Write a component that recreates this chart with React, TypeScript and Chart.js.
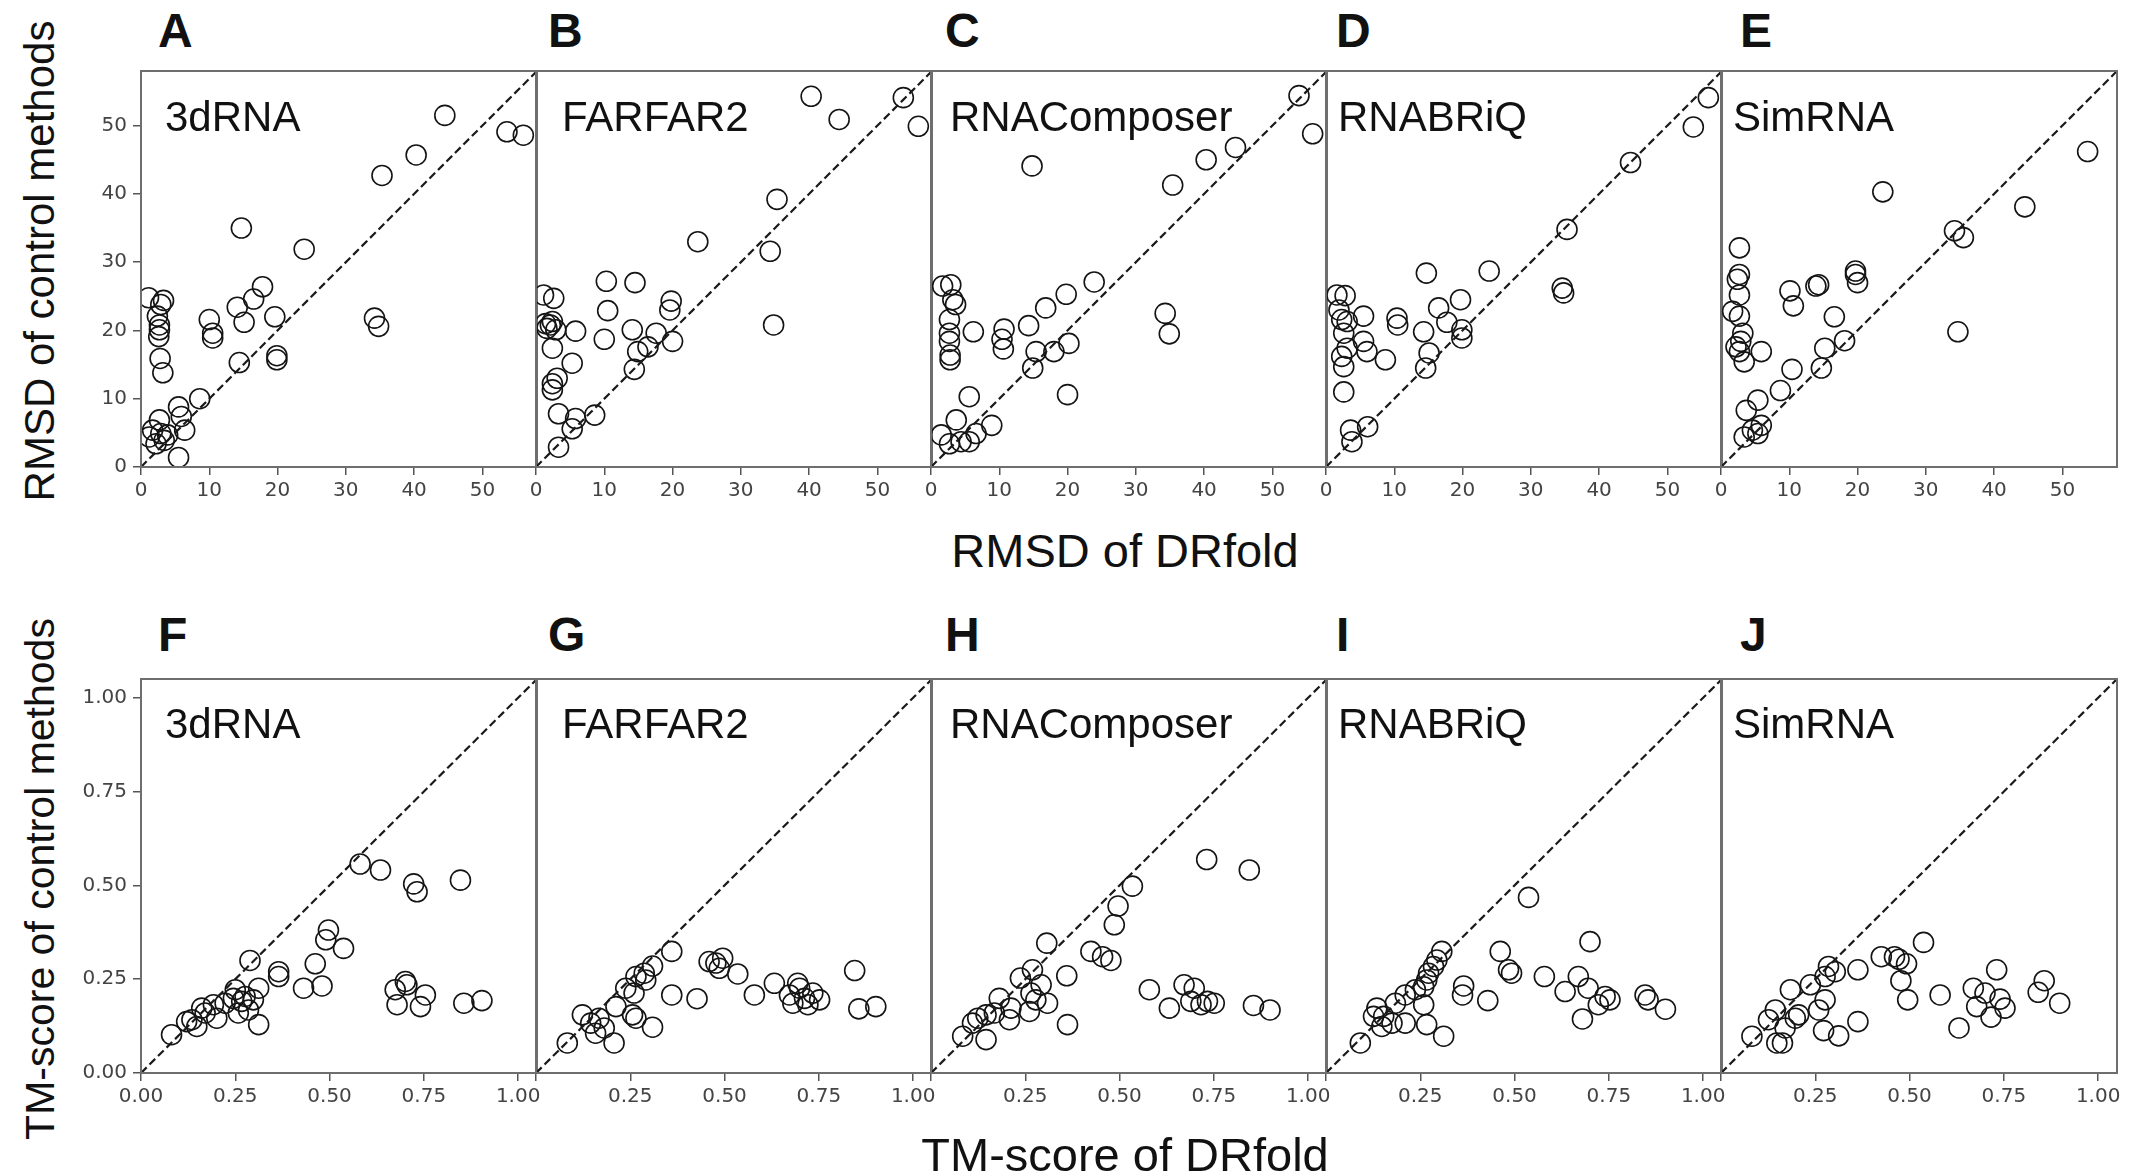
import React, { useEffect, useRef } from 'react';
import { Chart, registerables } from 'chart.js';
Chart.register(...registerables);

// ---------------- data ----------------
const methods = ['3dRNA', 'FARFAR2', 'RNAComposer', 'RNABRiQ', 'SimRNA'];
const topLetters = ['A', 'B', 'C', 'D', 'E'];
const bottomLetters = ['F', 'G', 'H', 'I', 'J'];
const rmsdTicks = [0, 10, 20, 30, 40, 50];
const tmTicks = [0, 0.25, 0.5, 0.75, 1.0];
const rmsdMax = 58;
const tmMax = 1.05;

// RMSD: DRfold (x) vs control method (y)
const rmsdDRfold_3dRNA = [44.5, 53.6, 56.0, 40.3, 35.3, 14.7, 23.9, 17.8, 16.5, 14.1, 15.1, 19.6, 10.0, 10.5, 10.5, 34.2, 34.8, 19.9, 19.9, 14.4, 1.1, 2.9, 2.4, 2.7, 2.7, 2.6, 2.8, 3.2, 8.6, 5.5, 5.9, 6.4, 2.7, 1.2, 2.9, 3.9, 3.4, 2.2, 5.5, 1.7, 3.3];
const rmsd_3dRNA = [51.5, 49.1, 48.6, 45.7, 42.7, 35.0, 31.9, 26.4, 24.6, 23.4, 21.2, 22.0, 21.6, 19.6, 18.9, 21.8, 20.6, 16.3, 15.7, 15.3, 24.8, 23.8, 22.1, 20.8, 20.1, 19.1, 15.9, 13.8, 10.0, 8.8, 7.4, 5.4, 6.9, 4.4, 4.9, 4.7, 3.9, 3.4, 1.4, 5.4, 24.4];

const rmsdDRfold_FARFAR2 = [40.3, 44.4, 53.8, 56.0, 35.3, 34.3, 23.7, 34.8, 10.3, 14.5, 10.5, 19.8, 19.6, 20.0, 10.0, 14.1, 17.6, 16.4, 14.9, 14.4, 1.1, 2.6, 2.1, 1.6, 2.4, 2.9, 1.4, 5.8, 2.4, 5.3, 3.1, 2.4, 2.4, 3.3, 5.8, 8.6, 5.3, 3.3];
const rmsd_FARFAR2 = [54.3, 50.9, 54.1, 49.9, 39.2, 31.6, 33.0, 20.8, 27.2, 27.0, 22.9, 24.3, 23.0, 18.4, 18.7, 20.1, 19.6, 17.6, 16.9, 14.3, 25.2, 24.7, 20.8, 20.3, 21.3, 20.1, 21.0, 19.9, 17.4, 15.2, 13.0, 12.2, 11.3, 7.8, 7.1, 7.6, 5.6, 2.9];

const rmsdDRfold_RNAComposer = [53.9, 55.9, 44.6, 40.3, 35.4, 14.8, 23.9, 19.8, 16.8, 14.3, 10.7, 10.4, 10.6, 6.2, 34.3, 34.9, 20.2, 18.0, 15.4, 14.9, 20.0, 5.6, 1.7, 2.9, 3.2, 3.6, 2.7, 2.7, 2.7, 2.8, 2.8, 3.7, 1.5, 2.7, 4.4, 5.6, 6.6, 8.9];
const rmsd_RNAComposer = [54.4, 48.8, 46.8, 45.0, 41.3, 44.1, 27.1, 25.3, 23.3, 20.7, 20.2, 18.7, 17.3, 19.8, 22.5, 19.5, 18.1, 16.9, 16.9, 14.5, 10.6, 10.3, 26.5, 26.7, 24.5, 23.8, 21.6, 19.6, 18.4, 16.4, 15.7, 6.9, 4.7, 3.4, 3.7, 3.7, 4.9, 6.1];

const rmsdDRfold_RNABRiQ = [56.0, 53.8, 44.6, 35.3, 34.6, 34.8, 23.9, 14.7, 19.7, 16.5, 17.7, 19.9, 19.9, 14.3, 10.4, 10.5, 15.1, 14.6, 8.7, 5.5, 5.5, 6.0, 1.6, 2.8, 1.9, 2.3, 3.1, 2.6, 3.1, 2.3, 2.6, 2.6, 3.6, 6.1, 3.8];
const rmsd_RNABRiQ = [54.1, 49.8, 44.6, 34.8, 26.2, 25.5, 28.7, 28.4, 24.5, 23.3, 21.2, 20.1, 18.9, 19.8, 21.8, 20.8, 16.7, 14.5, 15.7, 22.1, 18.4, 16.9, 25.2, 25.1, 23.0, 21.6, 21.3, 19.6, 17.4, 16.2, 14.7, 11.0, 5.4, 5.9, 3.7];

const rmsdDRfold_SimRNA = [53.7, 23.7, 44.5, 34.2, 35.5, 34.7, 19.7, 19.7, 20.0, 14.3, 13.9, 10.1, 10.6, 16.6, 18.1, 15.2, 14.7, 10.4, 8.7, 5.9, 2.7, 2.7, 2.4, 2.7, 1.7, 2.7, 3.2, 2.9, 2.2, 2.7, 3.4, 5.4, 3.7, 5.9, 5.4, 3.4, 4.6];
const rmsd_SimRNA = [46.2, 40.3, 38.1, 34.6, 33.6, 19.8, 28.7, 28.2, 27.0, 26.7, 26.5, 25.8, 23.6, 22.0, 18.5, 17.4, 14.5, 14.3, 11.2, 16.9, 32.1, 28.2, 27.5, 25.2, 22.8, 22.1, 19.6, 18.4, 17.6, 16.9, 15.4, 9.8, 8.3, 6.1, 4.9, 4.4, 5.4];

// TM-score: DRfold (x) vs control method (y)
const tmDRfold_3dRNA = [0.581, 0.635, 0.847, 0.723, 0.732, 0.497, 0.490, 0.537, 0.289, 0.462, 0.365, 0.365, 0.431, 0.480, 0.312, 0.312, 0.701, 0.705, 0.674, 0.754, 0.679, 0.741, 0.856, 0.904, 0.081, 0.121, 0.148, 0.161, 0.170, 0.201, 0.192, 0.223, 0.250, 0.258, 0.267, 0.276, 0.298, 0.285, 0.135, 0.245];
const tm_3dRNA = [0.557, 0.541, 0.514, 0.504, 0.483, 0.381, 0.355, 0.332, 0.300, 0.291, 0.270, 0.257, 0.226, 0.232, 0.226, 0.129, 0.244, 0.235, 0.222, 0.208, 0.182, 0.177, 0.186, 0.193, 0.102, 0.137, 0.124, 0.173, 0.160, 0.146, 0.182, 0.186, 0.222, 0.160, 0.191, 0.204, 0.195, 0.168, 0.142, 0.199];

const tmDRfold_FARFAR2 = [0.360, 0.459, 0.495, 0.486, 0.477, 0.535, 0.632, 0.579, 0.845, 0.694, 0.699, 0.672, 0.712, 0.734, 0.752, 0.681, 0.721, 0.856, 0.901, 0.360, 0.427, 0.309, 0.287, 0.265, 0.238, 0.260, 0.291, 0.212, 0.256, 0.265, 0.309, 0.123, 0.145, 0.167, 0.158, 0.181, 0.207, 0.083];
const tm_FARFAR2 = [0.324, 0.297, 0.306, 0.279, 0.293, 0.264, 0.239, 0.208, 0.273, 0.239, 0.226, 0.208, 0.199, 0.213, 0.195, 0.186, 0.182, 0.171, 0.177, 0.208, 0.198, 0.285, 0.266, 0.257, 0.226, 0.213, 0.248, 0.177, 0.155, 0.146, 0.122, 0.155, 0.133, 0.146, 0.106, 0.120, 0.080, 0.080];

const tmDRfold_RNAComposer = [0.731, 0.844, 0.534, 0.496, 0.486, 0.307, 0.424, 0.455, 0.477, 0.360, 0.579, 0.671, 0.698, 0.632, 0.689, 0.716, 0.733, 0.751, 0.855, 0.899, 0.362, 0.269, 0.237, 0.292, 0.265, 0.309, 0.278, 0.181, 0.212, 0.208, 0.261, 0.124, 0.146, 0.168, 0.084, 0.146, 0.110];
const tm_RNAComposer = [0.569, 0.541, 0.498, 0.445, 0.395, 0.346, 0.324, 0.310, 0.300, 0.259, 0.222, 0.235, 0.226, 0.173, 0.191, 0.182, 0.191, 0.186, 0.180, 0.168, 0.129, 0.275, 0.253, 0.235, 0.213, 0.186, 0.195, 0.199, 0.173, 0.142, 0.164, 0.146, 0.155, 0.160, 0.098, 0.089, 0.133];

const tmDRfold_RNABRiQ = [0.537, 0.700, 0.462, 0.484, 0.492, 0.307, 0.294, 0.285, 0.272, 0.267, 0.259, 0.365, 0.362, 0.429, 0.579, 0.669, 0.634, 0.695, 0.740, 0.753, 0.722, 0.680, 0.846, 0.854, 0.900, 0.259, 0.210, 0.184, 0.267, 0.312, 0.210, 0.175, 0.153, 0.126, 0.148, 0.091, 0.135, 0.237];
const tm_RNABRiQ = [0.468, 0.350, 0.324, 0.275, 0.266, 0.324, 0.301, 0.284, 0.266, 0.248, 0.230, 0.232, 0.208, 0.193, 0.257, 0.257, 0.217, 0.226, 0.204, 0.195, 0.182, 0.144, 0.208, 0.195, 0.170, 0.182, 0.208, 0.186, 0.129, 0.098, 0.133, 0.133, 0.151, 0.151, 0.124, 0.080, 0.173, 0.222];

const tmDRfold_SimRNA = [0.537, 0.425, 0.460, 0.472, 0.492, 0.477, 0.495, 0.363, 0.581, 0.731, 0.669, 0.700, 0.740, 0.678, 0.716, 0.753, 0.631, 0.857, 0.841, 0.898, 0.285, 0.303, 0.276, 0.237, 0.184, 0.276, 0.259, 0.206, 0.197, 0.272, 0.312, 0.363, 0.144, 0.126, 0.170, 0.148, 0.163, 0.082];
const tm_SimRNA = [0.348, 0.310, 0.310, 0.303, 0.291, 0.246, 0.195, 0.275, 0.208, 0.275, 0.226, 0.213, 0.197, 0.177, 0.149, 0.173, 0.120, 0.246, 0.215, 0.186, 0.284, 0.270, 0.257, 0.235, 0.222, 0.195, 0.168, 0.155, 0.146, 0.113, 0.099, 0.137, 0.168, 0.142, 0.120, 0.080, 0.080, 0.098];

const rmsdX = [rmsdDRfold_3dRNA, rmsdDRfold_FARFAR2, rmsdDRfold_RNAComposer, rmsdDRfold_RNABRiQ, rmsdDRfold_SimRNA];
const rmsdY = [rmsd_3dRNA, rmsd_FARFAR2, rmsd_RNAComposer, rmsd_RNABRiQ, rmsd_SimRNA];
const tmX = [tmDRfold_3dRNA, tmDRfold_FARFAR2, tmDRfold_RNAComposer, tmDRfold_RNABRiQ, tmDRfold_SimRNA];
const tmY = [tm_3dRNA, tm_FARFAR2, tm_RNAComposer, tm_RNABRiQ, tm_SimRNA];

// ---------------- layout ----------------
const PANEL_LEFTS = [141, 536, 931, 1326, 1721];
const PANEL_W = 396;
const ROW_TOPS = [71, 679];
const ROW_H = [396, 394];
const PAD_L = 72;
const PAD_R = 30;
const PAD_T = 12;
const PAD_B = 50;
const LETTER_X = [158, 548, 945, 1336, 1740];
const NAME_X = [165, 562, 950, 1338, 1733];
const LETTER_TOP = [7, 611];
const NAME_TOP = [96, 703];

const SANS = '"Liberation Sans", Arial, Helvetica, sans-serif';
const TICK_FONT = '"DejaVu Sans", sans-serif';

const framePlugin = {
  id: 'frame',
  afterDatasetsDraw(chart: any) {
    const { ctx, chartArea } = chart;
    const { left, top, right, bottom } = chartArea;
    ctx.save();
    ctx.strokeStyle = '#6e6e6e';
    ctx.lineWidth = 2;
    ctx.strokeRect(left, top, right - left, bottom - top);
    ctx.restore();
  },
};

type PanelProps = {
  xs: number[];
  ys: number[];
  max: number;
  ticks: number[];
  decimals: number;
  showY: boolean;
  hideZeroX: boolean;
  left: number;
  top: number;
  height: number;
};

function Panel({ xs, ys, max, ticks, decimals, showY, hideZeroX, left, top, height }: PanelProps) {
  const ref = useRef<HTMLCanvasElement>(null);
  const cw = PANEL_W + PAD_L + PAD_R;
  const ch = height + PAD_T + PAD_B;
  useEffect(() => {
    const canvas = ref.current!;
    const pts = xs.map((x, i) => ({ x, y: ys[i] }));
    const fmt = (v: number) => (decimals > 0 ? v.toFixed(decimals) : String(v));
    const chart = new Chart(canvas, {
      type: 'scatter',
      data: {
        datasets: [
          {
            type: 'line',
            data: [
              { x: 0, y: 0 },
              { x: max, y: max },
            ],
            borderColor: '#1a1a1a',
            borderWidth: 2.2,
            borderDash: [8, 4],
            pointRadius: 0,
            fill: false,
          } as any,
          {
            data: pts,
            pointRadius: 10,
            pointHoverRadius: 10,
            borderWidth: 1.6,
            borderColor: '#141414',
            backgroundColor: 'rgba(0,0,0,0)',
          },
        ],
      },
      options: {
        animation: false,
        responsive: false,
        devicePixelRatio: 1,
        events: [],
        layout: { padding: { left: 0, right: PAD_R, top: PAD_T, bottom: 0 } },
        plugins: { legend: { display: false }, tooltip: { enabled: false } },
        scales: {
          x: {
            type: 'linear',
            min: 0,
            max,
            afterBuildTicks: (s: any) => {
              s.ticks = ticks.map((v) => ({ value: v }));
            },
            afterFit: (s: any) => {
              s.height = PAD_B;
              s.paddingLeft = 0;
              s.paddingRight = 0;
            },
            border: { display: false },
            grid: {
              display: true,
              drawOnChartArea: false,
              drawTicks: true,
              tickLength: 8,
              color: '#555',
              lineWidth: 1.5,
            },
            ticks: {
              autoSkip: false,
              maxRotation: 0,
              minRotation: 0,
              padding: 4,
              color: '#444',
              font: { family: TICK_FONT, size: 20 },
              callback: (v: any) => (hideZeroX && Number(v) === 0 ? '' : fmt(Number(v))),
            },
          },
          y: {
            type: 'linear',
            min: 0,
            max,
            afterBuildTicks: (s: any) => {
              s.ticks = ticks.map((v) => ({ value: v }));
            },
            afterFit: (s: any) => {
              s.width = PAD_L;
              s.paddingTop = 0;
              s.paddingBottom = 0;
            },
            border: { display: false },
            grid: {
              display: showY,
              drawOnChartArea: false,
              drawTicks: true,
              tickLength: 8,
              color: '#555',
              lineWidth: 1.5,
            },
            ticks: {
              display: showY,
              autoSkip: false,
              padding: 6,
              color: '#444',
              font: { family: TICK_FONT, size: 20 },
              callback: (v: any) => fmt(Number(v)),
            },
          },
        },
      },
      plugins: [framePlugin],
    } as any);
    return () => chart.destroy();
  }, []);
  return (
    <canvas
      ref={ref}
      width={cw}
      height={ch}
      style={{ position: 'absolute', left: left - PAD_L, top: top - PAD_T, width: cw, height: ch }}
    />
  );
}

const abs = (extra: React.CSSProperties): React.CSSProperties => ({
  position: 'absolute',
  whiteSpace: 'nowrap',
  color: '#111',
  fontFamily: SANS,
  ...extra,
});

export default function App() {
  const rows = [
    { xs: rmsdX, ys: rmsdY, max: rmsdMax, ticks: rmsdTicks, decimals: 0, letters: topLetters, hideZero: false },
    { xs: tmX, ys: tmY, max: tmMax, ticks: tmTicks, decimals: 2, letters: bottomLetters, hideZero: true },
  ];
  return (
    <div style={{ position: 'absolute', left: 0, top: 0, width: 2137, height: 1176, background: '#fff', overflow: 'hidden' }}>
      {rows.map((row, r) =>
        methods.map((m, i) => (
          <Panel
            key={`p-${r}-${i}`}
            xs={row.xs[i]}
            ys={row.ys[i]}
            max={row.max}
            ticks={row.ticks}
            decimals={row.decimals}
            showY={i === 0}
            hideZeroX={row.hideZero && i > 0}
            left={PANEL_LEFTS[i]}
            top={ROW_TOPS[r]}
            height={ROW_H[r]}
          />
        ))
      )}
      {rows.map((row, r) =>
        row.letters.map((L, i) => (
          <div key={`l-${r}-${i}`} style={abs({ left: LETTER_X[i], top: LETTER_TOP[r], fontSize: 48, lineHeight: '48px', fontWeight: 'bold' })}>
            {L}
          </div>
        ))
      )}
      {rows.map((row, r) =>
        methods.map((m, i) => (
          <div key={`n-${r}-${i}`} style={abs({ left: NAME_X[i], top: NAME_TOP[r], fontSize: 42, lineHeight: '42px' })}>
            {m}
          </div>
        ))
      )}
      <div style={abs({ left: 40, top: 261, fontSize: 42, lineHeight: '42px', transform: 'translate(-50%, -50%) rotate(-90deg)' })}>
        RMSD of control methods
      </div>
      <div style={abs({ left: 40, top: 879, fontSize: 41, lineHeight: '41px', transform: 'translate(-50%, -50%) rotate(-90deg)' })}>
        TM-score of control methods
      </div>
      <div style={abs({ left: 1125, top: 527, fontSize: 47, lineHeight: '47px', transform: 'translateX(-50%)' })}>
        RMSD of DRfold
      </div>
      <div style={abs({ left: 1125, top: 1131, fontSize: 47, lineHeight: '47px', transform: 'translateX(-50%)' })}>
        TM-score of DRfold
      </div>
    </div>
  );
}
